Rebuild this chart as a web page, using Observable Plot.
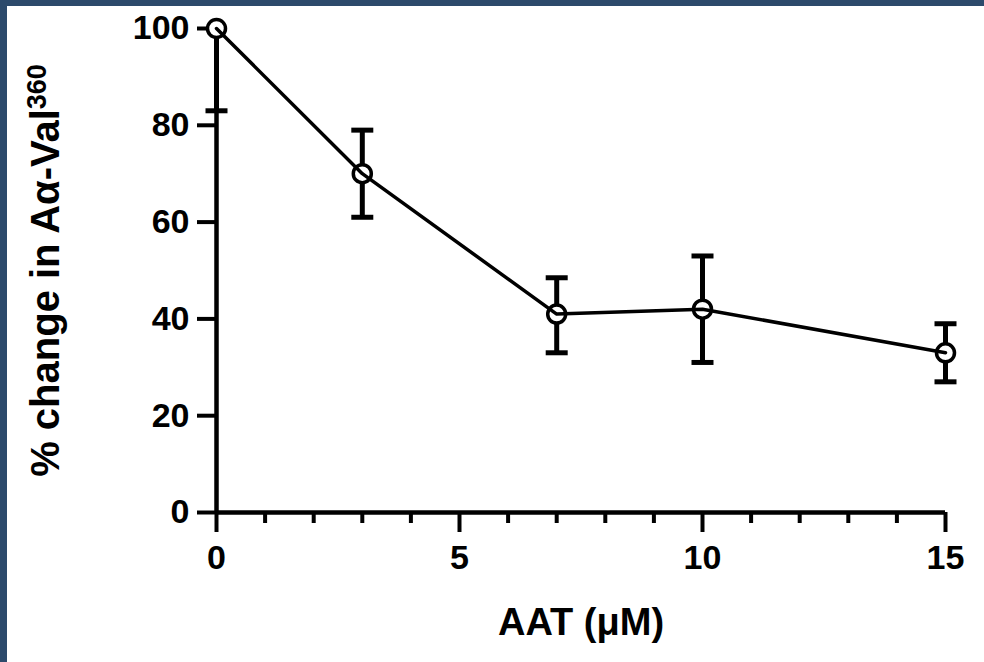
<!DOCTYPE html>
<html>
<head>
<meta charset="utf-8">
<script src="https://cdn.jsdelivr.net/npm/d3@7"></script>
<script src="https://cdn.jsdelivr.net/npm/@observablehq/plot@0.6"></script>
<style>
  html, body { margin: 0; padding: 0; background: #fff; }
  #frame {
    width: 977px; height: 656px;
    border-top: 6px solid #2c4a6b;
    border-left: 7px solid #2c4a6b;
    background: #fff;
    overflow: hidden;
  }
</style>
</head>
<body>
<div id="frame"></div>
<script>
// Data
const conc  = [0, 3, 7, 10, 15];
const mean  = [100, 70, 41, 42, 33];
const lower = [83, 61, 33, 31, 27];
const upper = [100, 79, 48.5, 53, 39];

const yTicks = [0, 20, 40, 60, 80, 100];
const xMajor = [0, 5, 10, 15];
const xMinor = [1, 2, 3, 4, 6, 7, 8, 9, 11, 12, 13, 14];

const xTitle = "AAT (μM)";
const yTitle = "% change in Aα-Val";
const ySup = "360";

const rows = conc.map((c, i) => ({x: c, y: mean[i], lo: lower[i], hi: upper[i]}));
const caps = [];
rows.forEach(r => {
  if (r.lo !== r.y) caps.push({x: r.x, y: r.lo});
  if (r.hi !== r.y) caps.push({x: r.x, y: r.hi});
});

const capSymbol = {
  draw(ctx) { ctx.moveTo(-11, 0); ctx.lineTo(11, 0); }
};

const font = "'Liberation Sans', Arial, Helvetica, sans-serif";

const chart = Plot.plot({
  width: 977,
  height: 656,
  marginLeft: 209,
  marginRight: 39,
  marginTop: 22,
  marginBottom: 150,
  style: {fontFamily: font, fontWeight: "bold", color: "#000", background: "#fff", overflow: "visible"},
  x: {domain: [0, 15]},
  y: {domain: [0, 100]},
  marks: [
    // axes
    Plot.axisY({ticks: yTicks, tickSize: 19, tickPadding: 8, strokeWidth: 4, fontSize: 34, fontWeight: "bold", label: null}),
    Plot.axisX({ticks: xMinor, tickSize: 11, strokeWidth: 4, text: null, label: null}),
    Plot.axisX({ticks: xMajor, tickSize: 20, tickPadding: 12, strokeWidth: 4, fontSize: 34, fontWeight: "bold", label: null}),
    Plot.ruleY([0], {stroke: "#000", strokeWidth: 4.5}),
    Plot.ruleX([0], {stroke: "#000", strokeWidth: 4.5}),
    // error bars
    Plot.ruleX(rows, {x: "x", y1: "lo", y2: "hi", stroke: "#000", strokeWidth: 5}),
    Plot.dot(caps, {x: "x", y: "y", symbol: capSymbol, stroke: "#000", strokeWidth: 5, fill: "none"}),
    // white behind markers (hides error bar inside circle)
    Plot.dot(rows, {x: "x", y: "y", r: 9, fill: "#fff", stroke: "none"}),
    // line
    Plot.line(rows, {x: "x", y: "y", stroke: "#000", strokeWidth: 3.5}),
    // markers
    Plot.dot(rows, {x: "x", y: "y", r: 9, fill: "none", stroke: "#000", strokeWidth: 3.5}),
    // titles
    Plot.text([xTitle], {frameAnchor: "bottom", dy: 110, fontSize: 38, fontWeight: "bold", fill: "#000", lineAnchor: "middle"}),
    Plot.text([yTitle], {frameAnchor: "left", dx: -170, dy: 0, rotate: -90, textAnchor: "middle", fontSize: 40, fontWeight: "bold", fill: "#000", lineAnchor: "middle", className: "ytitle"})
  ]
});

document.getElementById("frame").appendChild(chart);

// add superscript to y title
const t = d3.select(chart).selectAll("g.ytitle text");
t.each(function() {
  d3.select(this).append("tspan").attr("dy", "-0.5em").attr("font-size", 27).text(ySup);
});
</script>
</body>
</html>
